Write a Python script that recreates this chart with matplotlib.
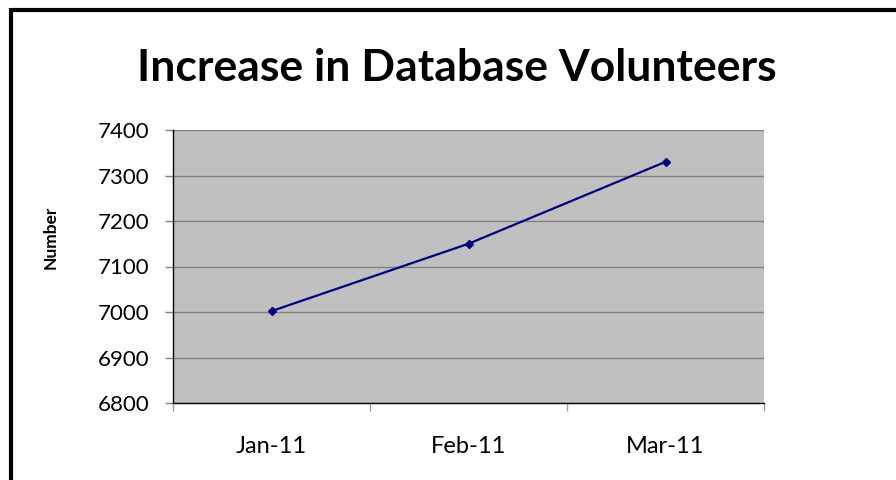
import matplotlib
matplotlib.use("Agg")
import matplotlib.pyplot as plt
from matplotlib.lines import Line2D

months = ["Jan-11", "Feb-11", "Mar-11"]
volunteers = [7002, 7150, 7330]
y_ticks = [6800, 6900, 7000, 7100, 7200, 7300, 7400]

plt.rcParams['font.family'] = ['Lato', 'DejaVu Sans']

W, H = 896, 480
fig = plt.figure(figsize=(W / 100, H / 100), dpi=100)
fig.patch.set_facecolor("white")

# plot area in pixels: left 173, top 130, right 764, bottom 403
l, t, r, b = 173, 130, 764, 403
ax = fig.add_axes([l / W, 1 - b / H, (r - l) / W, (b - t) / H])
ax.set_facecolor("#C0C0C0")

x = list(range(len(months)))
ax.plot(x, volunteers, color="#000080", linewidth=1.6, marker="D", markersize=4,
        markerfacecolor="#000080", markeredgecolor="#000080", zorder=3)

ax.set_xlim(-0.5, len(months) - 0.5)
ax.set_ylim(y_ticks[0], y_ticks[-1])
ax.set_yticks(y_ticks)
ax.set_yticklabels([str(v) for v in y_ticks], fontsize=16)
ax.yaxis.grid(True, color="#808080", linewidth=1.0)
ax.set_axisbelow(True)

ax.set_xticks([i - 0.5 for i in range(len(months) + 1)])
ax.set_xticklabels([])
ax.set_xticks(x, minor=True)
ax.set_xticklabels(months, minor=True, fontsize=17)
ax.tick_params(axis="x", which="major", length=6, color="#A0A0A0", width=1)
ax.tick_params(axis="x", which="minor", length=0, pad=24)
ax.tick_params(axis="y", which="major", length=6, color="#808080", width=1, pad=11)

for s in ["top", "right"]:
    ax.spines[s].set_visible(False)
for s in ["left", "bottom"]:
    ax.spines[s].set_color("black")
    ax.spines[s].set_linewidth(1.0)

fig.text(51 / W, 1 - 237 / H, "Number", rotation=90, ha="center", va="center",
         fontsize=12.5, fontweight="bold")

fig.text(457 / W, 1 - 68 / H, "Increase in Database Volunteers", ha="center", va="center",
         fontsize=32, fontweight="bold")

# outer frame (top and left edges visible)
fig.add_artist(Line2D([11 / W, 1.0], [1 - 9.5 / H, 1 - 9.5 / H], color="black", linewidth=3,
                      transform=fig.transFigure, solid_capstyle="butt"))
fig.add_artist(Line2D([11 / W, 11 / W], [0, 1 - 8 / H], color="black", linewidth=3,
                      transform=fig.transFigure, solid_capstyle="butt"))

fig.savefig("out.png", dpi=100)
